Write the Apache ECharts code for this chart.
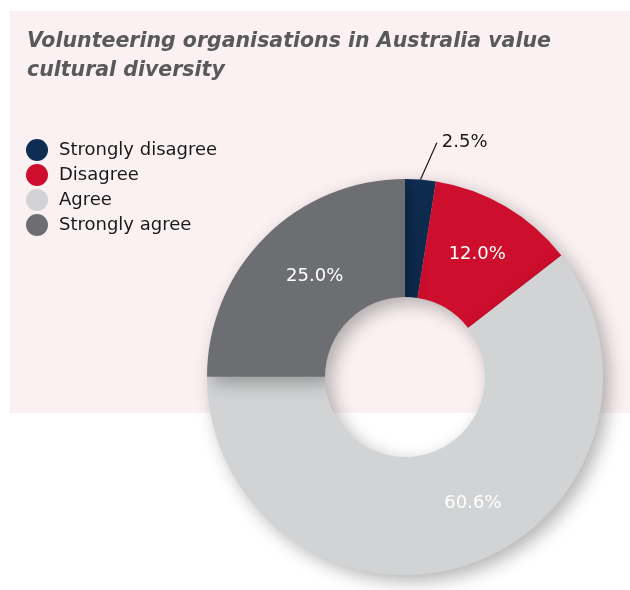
<!DOCTYPE html>
<html>
<head>
<meta charset="utf-8">
<script src="https://cdn.jsdelivr.net/npm/echarts@6/dist/echarts.min.js"></script>
<style>
  html, body { margin: 0; padding: 0; background: #ffffff; }
  #chart { width: 630px; height: 590px; }
</style>
</head>
<body>
<div id="chart"></div>
<script>
// Survey responses: agreement with "values cultural diversity"
const categories = ['Strongly disagree', 'Disagree', 'Agree', 'Strongly agree'];
const shares = [2.5, 12.0, 60.6, 25.0];
const colors = ['#0f2d52', '#ce0e2d', '#d1d3d4', '#6d6e71'];

const FONT = '"DejaVu Sans", Verdana, sans-serif';

// nudges for the inside labels so they sit in the open part of each ring
const labelNudge = [null, [0, 0], [22, -8], [10, 0]];

const data = categories.map((name, i) => {
  const item = { name: name, value: shares[i], itemStyle: { color: colors[i] } };
  if (i === 0) {
    // thin slice: label sits outside; an invisible padded box makes the
    // leader line stop just below-left of the text
    item.label = {
      position: 'outside',
      color: '#1a1a1a',
      backgroundColor: 'rgba(0,0,0,0)',
      padding: [0, 0, 18, 5]
    };
    item.labelLine = { show: true };
  } else if (labelNudge[i]) {
    item.label = { offset: labelNudge[i] };
  }
  return item;
});

const chart = echarts.init(document.getElementById('chart'), null, { renderer: 'canvas' });
chart.setOption({
  animation: false,
  backgroundColor: '#ffffff',
  graphic: [{
    type: 'rect',
    z: -10,
    shape: { x: 10, y: 11, width: 620, height: 402 },
    style: { fill: '#fbf1f2' }
  }],
  title: {
    text: 'Volunteering organisations in Australia value\ncultural diversity',
    left: 22,
    top: 22,
    textStyle: {
      fontFamily: FONT,
      fontSize: 20.5,
      fontWeight: 'bold',
      fontStyle: 'italic',
      color: '#58595b',
      lineHeight: 29
    }
  },
  legend: {
    orient: 'vertical',
    left: 21,
    top: 134,
    icon: 'circle',
    itemWidth: 22,
    itemHeight: 22,
    itemGap: 3,
    data: categories,
    textStyle: { fontFamily: FONT, fontSize: 18, color: '#1a1a1a', padding: [0, 0, 0, 6] }
  },
  series: [{
    type: 'pie',
    center: [405, 377],
    radius: [80, 198],
    startAngle: 90,
    clockwise: true,
    avoidLabelOverlap: false,
    itemStyle: {
      shadowBlur: 18,
      shadowOffsetX: 6,
      shadowOffsetY: 6,
      shadowColor: 'rgba(0,0,0,0.3)'
    },
    label: {
      show: true,
      position: 'inside',
      formatter: p => p.value.toFixed(1) + '%',
      fontFamily: FONT,
      fontSize: 18,
      color: '#ffffff'
    },
    labelLine: {
      show: false,
      length: 30,
      length2: 0,
      lineStyle: { color: '#1a1a1a', width: 1.2 }
    },
    // shift the small outside label up and to the right; the leader line is re-routed to it
    labelLayout: p => (p.dataIndex === 0
      ? { x: p.labelRect.x + 9, y: p.labelRect.y + p.labelRect.height / 2 - 7 }
      : {}),
    emphasis: { disabled: true },
    data: data
  }]
});
</script>
</body>
</html>
